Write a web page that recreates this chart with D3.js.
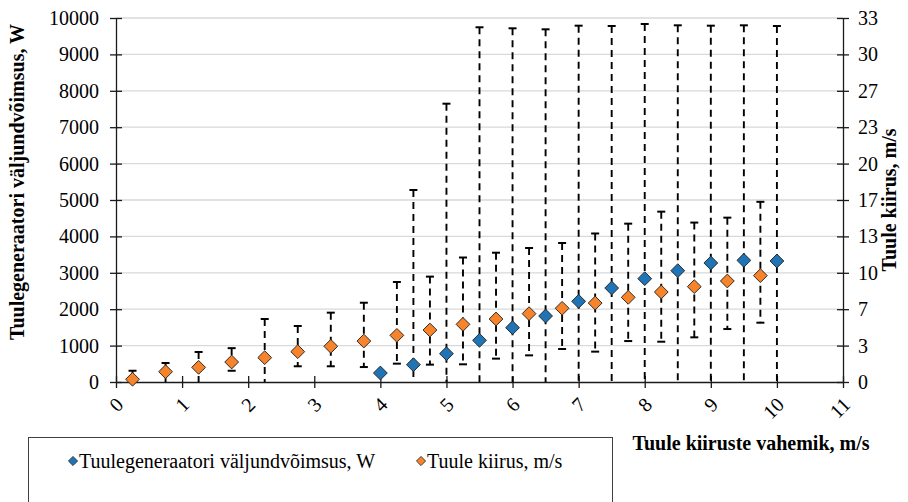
<!DOCTYPE html>
<html>
<head>
<meta charset="utf-8">
<script src="https://cdn.jsdelivr.net/npm/d3@7"></script>
<style>
  html, body { margin: 0; padding: 0; background: #fff; }
  svg { display: block; }
</style>
</head>
<body>
<svg id="chart" width="908" height="502"></svg>
<script>
// ---- data ----
const powerBins = [4, 4.5, 5, 5.5, 6, 6.5, 7, 7.5, 8, 8.5, 9, 9.5, 10];
const powerMean = [247, 476, 778, 1145, 1492, 1813, 2216, 2582, 2839, 3059, 3269, 3342, 3324];
const powerMin  = [247, 0, 0, 0, 0, 0, 0, 0, 0, 0, 0, 0, 0];
const powerMax  = [247, 5275, 7646, 9745, 9717, 9689, 9789, 9780, 9835, 9799, 9789, 9799, 9780];

const windBins = [0.25, 0.75, 1.25, 1.75, 2.25, 2.75, 3.25, 3.75, 4.25, 4.75, 5.25, 5.75, 6.25, 6.75, 7.25, 7.75, 8.25, 8.75, 9.25, 9.75];
const windMean = [0.25, 0.94, 1.34, 1.83, 2.23, 2.78, 3.27, 3.75, 4.27, 4.76, 5.28, 5.77, 6.26, 6.75, 7.23, 7.75, 8.24, 8.73, 9.25, 9.74];
const windMin  = [0, 0, 0, 1.03, 0, 1.44, 1.44, 1.37, 1.68, 1.59, 1.62, 2.14, 2.44, 3.02, 2.78, 3.75, 3.69, 4.09, 4.85, 5.43];
const windMax  = [1.03, 1.74, 2.75, 3.10, 5.77, 5.13, 6.35, 7.26, 9.16, 9.65, 11.40, 11.84, 12.27, 12.73, 13.60, 14.50, 15.60, 14.60, 15.05, 16.50];

const xTicks = [0, 1, 2, 3, 4, 5, 6, 7, 8, 9, 10, 11];
const leftTicks = [0, 1000, 2000, 3000, 4000, 5000, 6000, 7000, 8000, 9000, 10000];
const rightMax = 10000 / 300;

const labels = {
  yLeft: "Tuulegeneraatori väljundvõimsus, W",
  yRight: "Tuule kiirus, m/s",
  x: "Tuule kiiruste vahemik, m/s",
  s1: "Tuulegeneraatori väljundvõimsus, W",
  s2: "Tuule kiirus, m/s"
};

const blue = "#1f74b6", orange = "#f7832a";
const FONT = '"Liberation Serif", "Times New Roman", serif';

// ---- layout ----
const L = 116, R = 843, T = 18, B = 382;
const svg = d3.select("#chart");

const x = d3.scaleLinear().domain([0, 11]).range([L, R]);
const yL = d3.scaleLinear().domain([0, 10000]).range([B, T]);
const yR = d3.scaleLinear().domain([0, rightMax]).range([B, T]);

// gridlines
svg.append("g").selectAll("line").data(leftTicks.slice(1)).join("line")
  .attr("x1", L).attr("x2", R)
  .attr("y1", d => yL(d)).attr("y2", d => yL(d))
  .attr("stroke", "#d9d9d9").attr("stroke-width", 1.3);

// axes
const axColor = "#1a1a1a";
function styleAxis(g) {
  g.attr("font-family", null).attr("font-size", null);
  g.select(".domain").attr("stroke", axColor).attr("stroke-width", 1.3);
  g.selectAll(".tick line").attr("stroke", axColor).attr("stroke-width", 1.3);
  g.selectAll("text").attr("font-size", 20).attr("fill", "#000");
}

const gL = svg.append("g").attr("transform", `translate(${L},0)`)
  .call(d3.axisLeft(yL).tickValues(leftTicks).tickSize(6).tickSizeOuter(0).tickFormat(d3.format("d")));
gL.selectAll(".tick line").attr("x2", 6).attr("x1", -6);
styleAxis(gL);
gL.selectAll("text").attr("x", -17);

const rTicks = d3.range(0, 11).map(i => i * rightMax / 10);
const gR = svg.append("g").attr("transform", `translate(${R},0)`)
  .call(d3.axisRight(yR).tickValues(rTicks).tickSize(6).tickSizeOuter(0).tickFormat(d3.format(".0f")));
gR.selectAll(".tick line").attr("x1", -6).attr("x2", 6);
styleAxis(gR);
gR.selectAll("text").attr("x", 15);

const gX = svg.append("g").attr("transform", `translate(0,${B})`)
  .call(d3.axisBottom(x).tickValues(xTicks).tickSize(6).tickSizeOuter(0).tickFormat(d3.format("d")));
gX.selectAll(".tick line").attr("y1", -6).attr("y2", 6);
styleAxis(gX);
gX.selectAll("text")
  .attr("y", 0).attr("dy", 0)
  .attr("text-anchor", "end")
  .attr("transform", "translate(8,24) rotate(-45)");

// error bars
const capW = 4;
function errBars(bins, lo, hi, ys, cls) {
  const g = svg.append("g").attr("class", cls);
  const data = bins.map((b, i) => ({ b, lo: lo[i], hi: hi[i] })).filter(d => d.hi > d.lo);
  g.selectAll("line.v").data(data).join("line").attr("class", "v")
    .attr("x1", d => x(d.b)).attr("x2", d => x(d.b))
    .attr("y1", d => ys(d.hi)).attr("y2", d => ys(d.lo))
    .attr("stroke", "#000").attr("stroke-width", 1.9).attr("stroke-dasharray", "7,5");
  g.selectAll("line.ch").data(data).join("line").attr("class", "ch")
    .attr("x1", d => x(d.b) - capW).attr("x2", d => x(d.b) + capW)
    .attr("y1", d => ys(d.hi)).attr("y2", d => ys(d.hi))
    .attr("stroke", "#000").attr("stroke-width", 2);
  g.selectAll("line.cl").data(data.filter(d => d.lo > 0)).join("line").attr("class", "cl")
    .attr("x1", d => x(d.b) - capW).attr("x2", d => x(d.b) + capW)
    .attr("y1", d => ys(d.lo)).attr("y2", d => ys(d.lo))
    .attr("stroke", "#000").attr("stroke-width", 2);
}
errBars(powerBins, powerMin, powerMax, yL, "errP");
errBars(windBins, windMin, windMax, yR, "errW");

// markers
const diamond = d3.symbol().type(d3.symbolSquare).size(95);
function markers(bins, vals, ys, color) {
  svg.append("g").selectAll("path").data(bins.map((b, i) => [b, vals[i]])).join("path")
    .attr("d", diamond)
    .attr("transform", d => `translate(${x(d[0])},${ys(d[1])}) rotate(45)`)
    .attr("fill", color).attr("stroke", "#262626").attr("stroke-width", 0.9);
}
markers(powerBins, powerMean, yL, blue);
markers(windBins, windMean, yR, orange);

// axis titles
svg.append("text")
  .attr("transform", `translate(24,182) rotate(-90)`)
  .attr("text-anchor", "middle").attr("font-size", 20).attr("font-weight", "bold")
  .text(labels.yLeft);
svg.append("text")
  .attr("transform", `translate(896,200) rotate(-90)`)
  .attr("text-anchor", "middle").attr("font-size", 20).attr("font-weight", "bold")
  .text(labels.yRight);
svg.append("text")
  .attr("x", 751).attr("y", 450)
  .attr("text-anchor", "middle").attr("font-size", 20).attr("font-weight", "bold")
  .text(labels.x);

// legend
const lg = svg.append("g");
lg.append("rect").attr("x", 28.5).attr("y", 437.5).attr("width", 584).attr("height", 80)
  .attr("fill", "#fff").attr("stroke", "#404040").attr("stroke-width", 1);
const legendItems = [
  { label: labels.s1, color: blue, mx: 73 },
  { label: labels.s2, color: orange, mx: 421 }
];
const legSym = d3.symbol().type(d3.symbolSquare).size(42);
legendItems.forEach(it => {
  lg.append("path").attr("d", legSym)
    .attr("transform", `translate(${it.mx},461) rotate(45)`)
    .attr("fill", it.color).attr("stroke", "#262626").attr("stroke-width", 0.8);
  lg.append("text").attr("x", it.mx + 6).attr("y", 468)
    .attr("font-size", 20).text(it.label);
});

svg.selectAll("text").style("font-family", FONT).attr("fill", "#000");
</script>
</body>
</html>
